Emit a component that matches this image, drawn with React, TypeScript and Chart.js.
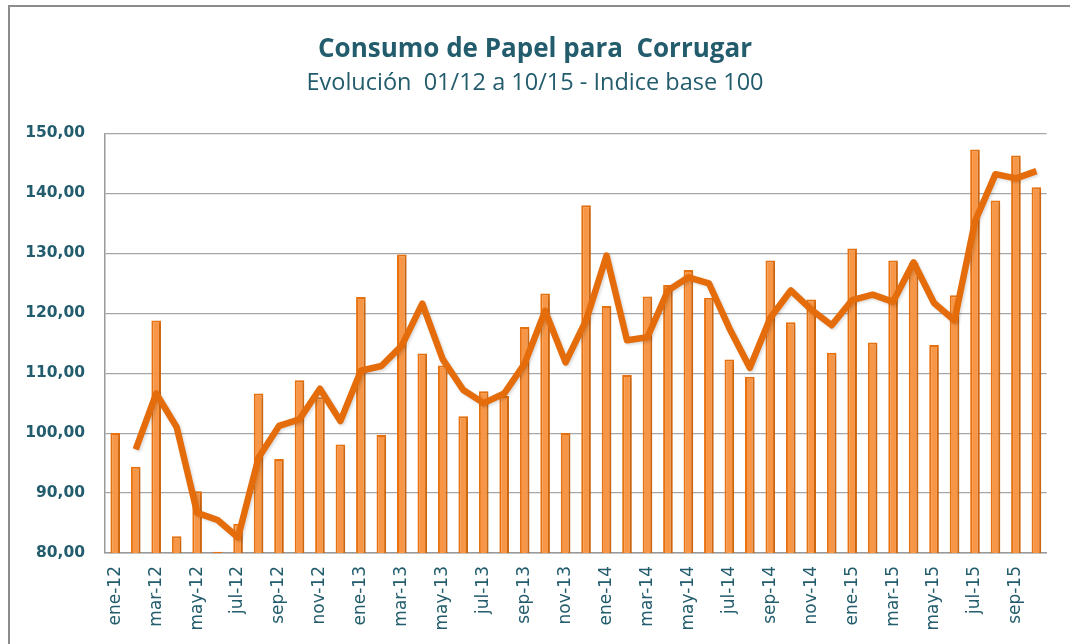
import { useEffect, useRef } from "react";
import { Chart, registerables } from "chart.js";

Chart.register(...registerables);

const months: string[] = [
  "ene-12", "feb-12", "mar-12", "abr-12", "may-12", "jun-12", "jul-12", "ago-12", "sep-12", "oct-12", "nov-12", "dic-12",
  "ene-13", "feb-13", "mar-13", "abr-13", "may-13", "jun-13", "jul-13", "ago-13", "sep-13", "oct-13", "nov-13", "dic-13",
  "ene-14", "feb-14", "mar-14", "abr-14", "may-14", "jun-14", "jul-14", "ago-14", "sep-14", "oct-14", "nov-14", "dic-14",
  "ene-15", "feb-15", "mar-15", "abr-15", "may-15", "jun-15", "jul-15", "ago-15", "sep-15", "oct-15",
];

const consumo: number[] = [
  100.0, 94.4, 118.8, 82.8, 90.3, 80.2, 84.9, 106.6, 95.7, 108.8, 106.0, 98.1,
  122.7, 99.7, 129.8, 113.3, 111.3, 102.8, 107.0, 106.2, 117.7, 123.3, 100.0, 138.0,
  121.2, 109.7, 122.8, 124.7, 127.2, 122.6, 112.3, 109.4, 128.8, 118.5, 122.3, 113.4,
  130.8, 115.1, 128.8, 128.4, 114.7, 123.0, 147.3, 138.8, 146.3, 141.0,
];

const mediaMovil: (number | null)[] = [
  null, 97.3, 106.6, 101.0, 86.7, 85.5, 82.6, 95.9, 101.2, 102.3, 107.4, 102.0,
  110.4, 111.2, 114.6, 121.6, 112.3, 107.2, 105.0, 106.6, 111.6, 120.4, 111.8, 118.8,
  129.6, 115.5, 116.0, 123.8, 126.0, 125.0, 117.5, 110.9, 119.2, 123.8, 120.6, 118.0,
  122.2, 123.1, 121.9, 128.5, 121.7, 118.8, 135.3, 143.2, 142.5, 143.7,
];

const yMin = 80;
const yMax = 150;
const yStep = 10;

const titleText = "Consumo de Papel para  Corrugar";
const subtitleText = "Evolución  01/12 a 10/15 - Indice base 100";

const TEAL = "#235C6C";

const shadowPlugin = {
  id: "softShadow",
  beforeDatasetDraw(chart: any, args: any) {
    const ctx = chart.ctx;
    ctx.save();
    if (args.index === 0) {
      ctx.shadowColor = "rgba(0,0,0,0.16)";
      ctx.shadowBlur = 5;
      ctx.shadowOffsetX = 4;
      ctx.shadowOffsetY = 1;
    } else {
      ctx.shadowColor = "rgba(0,0,0,0.15)";
      ctx.shadowBlur = 3;
      ctx.shadowOffsetX = 1.5;
      ctx.shadowOffsetY = 1.5;
    }
  },
  afterDatasetDraw(chart: any) {
    chart.ctx.restore();
  },
};

export default function App() {
  const canvasRef = useRef<HTMLCanvasElement | null>(null);

  useEffect(() => {
    const canvas = canvasRef.current;
    if (!canvas) return;
    const chart = new Chart(canvas, {
      type: "bar",
      data: {
        labels: months,
        datasets: [
          {
            type: "bar",
            label: "Consumo",
            data: consumo,
            backgroundColor: "#F79646",
            borderColor: "#E8720F",
            borderWidth: 2,
            barPercentage: 0.47,
            categoryPercentage: 1,
            order: 2,
          },
          {
            type: "line",
            label: "Media móvil",
            data: mediaMovil,
            borderColor: "#E46C0A",
            borderWidth: 6.5,
            pointRadius: 0,
            tension: 0,
            borderJoinStyle: "round",
            borderCapStyle: "butt",
            fill: false,
            order: 1,
          } as any,
        ],
      },
      options: {
        responsive: false,
        animation: false,
        layout: { padding: { left: 20, right: 20, top: 0, bottom: 0 } },
        plugins: {
          legend: { display: false },
          tooltip: { enabled: false },
          title: {
            display: true,
            text: titleText,
            color: TEAL,
            font: { family: "'Open Sans'", size: 26, weight: "bold" },
            padding: { top: 34, bottom: 4 },
          },
          subtitle: {
            display: true,
            text: subtitleText,
            color: TEAL,
            font: { family: "'Open Sans'", size: 23.5, weight: "normal" },
            padding: { top: 0, bottom: 36 },
          },
        },
        scales: {
          x: {
            grid: { display: false, drawTicks: false },
            border: { display: true, color: "#9a9a9a", width: 1.5 },
            ticks: {
              autoSkip: false,
              maxRotation: 90,
              minRotation: 90,
              padding: 13,
              color: TEAL,
              font: { family: "'DejaVu Sans'", size: 17 },
              callback: (_v: any, i: number) => (i % 2 === 0 ? months[i] : ""),
            },
            afterFit: (scale: any) => {
              scale.height = 91;
            },
          },
          y: {
            min: yMin,
            max: yMax,
            grid: { color: "#a6a6a6", lineWidth: 1.2, drawTicks: false },
            border: { display: true, color: "#9a9a9a", width: 1.5 },
            ticks: {
              stepSize: yStep,
              padding: 20,
              color: TEAL,
              font: { family: "'DejaVu Sans'", size: 15.5, weight: "bold" },
              callback: (v: any) => Number(v).toFixed(2).replace(".", ","),
            },
            afterFit: (scale: any) => {
              scale.width = 85;
            },
          },
        },
      },
      plugins: [shadowPlugin],
    } as any);
    return () => chart.destroy();
  }, []);

  return (
    <div style={{ position: "fixed", left: 0, top: 0, width: 1070, height: 644, overflow: "hidden", background: "#fff" }}>
      <div
        style={{
          position: "absolute",
          left: 8,
          top: 5,
          width: 1120,
          height: 720,
          border: "2px solid #8c8c8c",
        }}
      />
      <canvas ref={canvasRef} width={1070} height={644} style={{ position: "absolute", left: 0, top: 0 }} />
    </div>
  );
}
